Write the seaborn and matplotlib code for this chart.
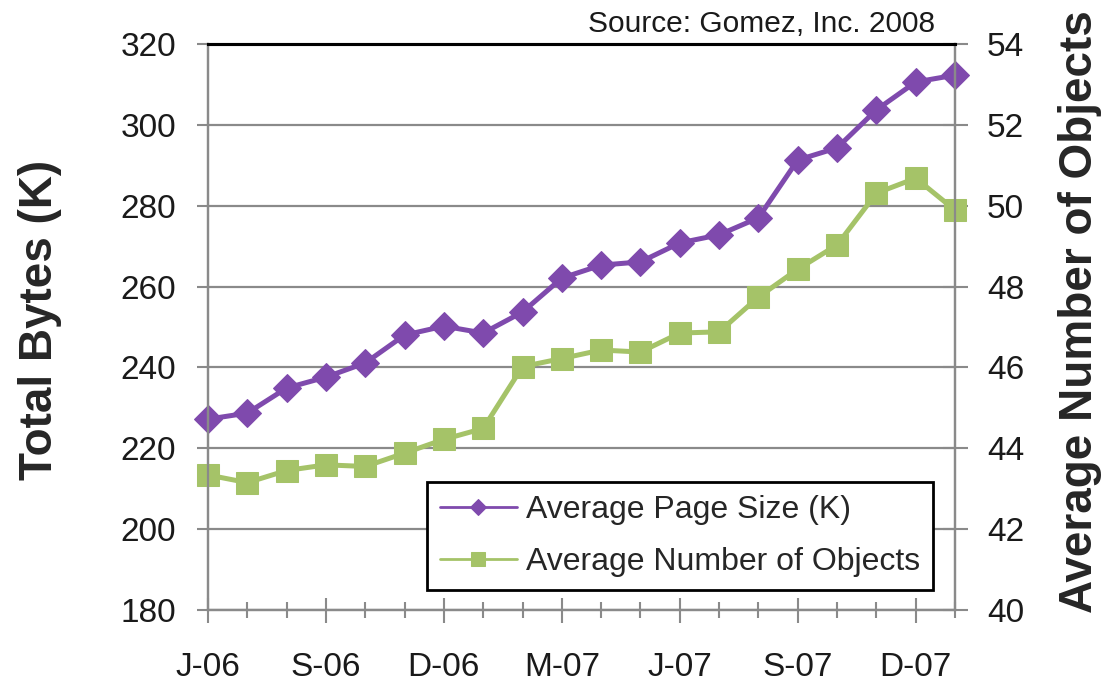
import matplotlib
matplotlib.use("Agg")
import matplotlib.pyplot as plt
import pandas as pd
import seaborn as sns

# Monthly data, June 2006 - January 2008
months = ["Jun-06", "Jul-06", "Aug-06", "Sep-06", "Oct-06", "Nov-06", "Dec-06",
          "Jan-07", "Feb-07", "Mar-07", "Apr-07", "May-07", "Jun-07", "Jul-07",
          "Aug-07", "Sep-07", "Oct-07", "Nov-07", "Dec-07", "Jan-08"]
page_size = [227.2, 228.7, 234.9, 237.6, 241.1, 248.0, 250.2, 248.5, 253.7, 262.1,
             265.3, 266.1, 270.8, 272.8, 277.0, 291.3, 294.3, 303.7, 310.6, 312.3]
num_objects = [43.34, 43.15, 43.45, 43.59, 43.55, 43.88, 44.22, 44.49, 46.02, 46.22,
               46.43, 46.38, 46.85, 46.88, 47.74, 48.43, 49.03, 50.31, 50.68, 49.89]
tick_labels = ["J-06", "S-06", "D-06", "M-07", "J-07", "S-07", "D-07"]
left_ticks = [180, 200, 220, 240, 260, 280, 300, 320]
right_ticks = [40, 42, 44, 46, 48, 50, 52, 54]

df = pd.DataFrame({"month": range(len(months)), "page_size": page_size,
                   "objects": num_objects})

purple = "#7F4AAD"
green = "#A5C368"
gray = "#8A8A8A"

sns.set_theme(style="white")
plt.rcParams["font.family"] = ["Liberation Sans", "DejaVu Sans"]

fig, ax = plt.subplots(figsize=(11.05, 6.84), dpi=100)
fig.subplots_adjust(left=0.1882, right=0.8643, top=0.9357, bottom=0.1082)
ax2 = ax.twinx()

sns.lineplot(data=df, x="month", y="page_size", ax=ax, color=purple, linewidth=3.6,
             marker="D", markersize=14, markeredgecolor=purple, clip_on=False,
             label="Average Page Size (K)", legend=False)
sns.lineplot(data=df, x="month", y="objects", ax=ax2, color=green, linewidth=3.6,
             marker="s", markersize=16, markeredgecolor=green, clip_on=False,
             label="Average Number of Objects", legend=False)

ax.set_xlim(0, len(months) - 1)
ax.set_ylim(left_ticks[0], left_ticks[-1])
ax2.set_ylim(right_ticks[0], right_ticks[-1])
ax.set_yticks(left_ticks)
ax2.set_yticks(right_ticks)
ax.set_xticks(range(0, len(months), 3))
ax.set_xticklabels(tick_labels)
ax.set_xticks(range(len(months)), minor=True)

ax.yaxis.grid(True, color=gray, linewidth=1.6)
ax.set_axisbelow(True)

for a in (ax, ax2):
    for side in ("left", "right", "bottom"):
        a.spines[side].set_color(gray)
        a.spines[side].set_linewidth(1.6)
    a.spines["top"].set_color("black")
    a.spines["top"].set_linewidth(2.2)

ax.tick_params(axis="y", direction="out", length=8, width=1.5, color=gray,
               pad=15, labelsize=24, left=True, labelcolor="#1a1a1a")
ax.tick_params(axis="x", which="major", direction="inout", length=18, width=1.5,
               color=gray, pad=21, labelsize=24, bottom=True, labelcolor="#1a1a1a")
ax.tick_params(axis="x", which="minor", direction="inout", length=12, width=1.5,
               color=gray, bottom=True)
ax2.tick_params(axis="y", direction="inout", length=18, width=1.5, color=gray,
                pad=14, labelsize=24, right=True, labelcolor="#1a1a1a")

ax.set_xlabel("")
ax2.set_xlabel("")
ax.set_ylabel("Total Bytes (K)", fontsize=33, fontweight="bold")
ax.yaxis.set_label_coords(-0.195, 0.512)
ax2.set_ylabel("Average Number of Objects", fontsize=33, fontweight="bold")
ax2.yaxis.set_label_coords(1.138, 0.527)

fig.text(935 / 1105, 1 - 32 / 684, "Source: Gomez, Inc. 2008", ha="right",
         va="baseline", fontsize=21.5, color="#1a1a1a")

handles = ax.get_lines()[:1] + ax2.get_lines()[:1]
leg = ax2.legend(handles=handles, labels=["Average Page Size (K)", "Average Number of Objects"],
                 loc="lower right", bbox_to_anchor=(0.9705, 0.0353), fontsize=23,
                 frameon=True, fancybox=False, framealpha=1, edgecolor="black",
                 handlelength=2.4, handletextpad=0.3, labelspacing=0.7,
                 borderpad=0.4, borderaxespad=0, markerscale=0.6)
leg.get_frame().set_linewidth(2.0)
for line in leg.get_lines():
    line.set_linewidth(2)

fig.savefig("out.png", dpi=100)
